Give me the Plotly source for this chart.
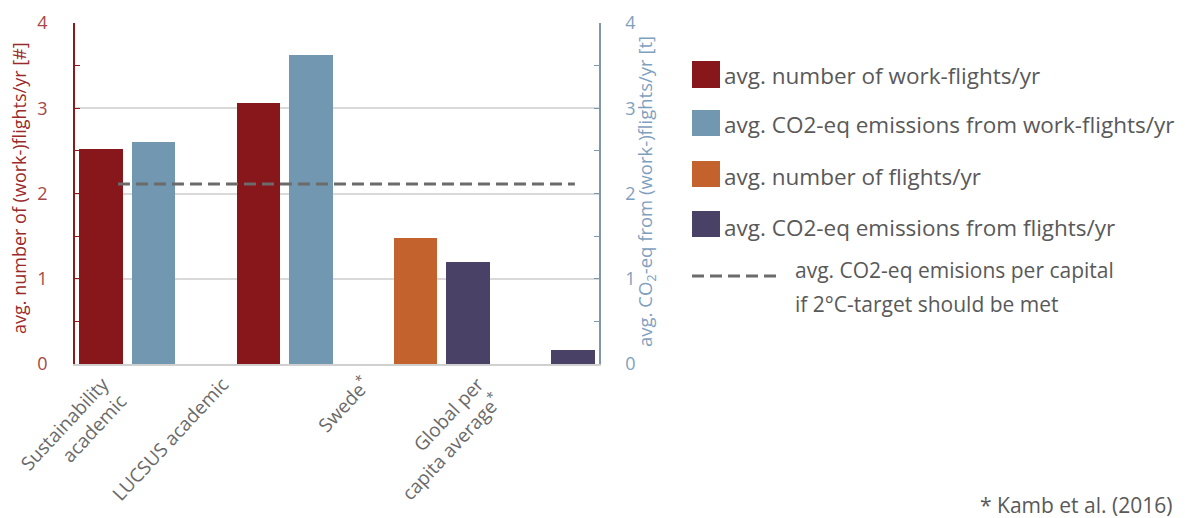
import plotly.graph_objects as go

categories = ["Sustainability<br>academic", "LUCSUS academic", "Swede<sup>*</sup>", "Global per<br>capita average<sup>*</sup>"]
series_names = [
    "avg. number of work-flights/yr",
    "avg. CO2-eq emissions from work-flights/yr",
    "avg. number of flights/yr",
    "avg. CO2-eq emissions from flights/yr",
]
work_flights_n = [2.52, 3.06, None, None]
work_flights_co2 = [2.60, 3.62, None, None]
flights_n = [None, None, 1.48, None]
flights_co2 = [None, None, 1.20, 0.16]
target_value = 2.11
target_label_lines = ["avg. CO2-eq emisions per capital", "if 2°C-target should be met"]
target_x_span = [0.32, 9.04]
left_title = "avg. number of (work-)flights/yr [#]"
right_title = "avg. CO<sub>2</sub>-eq from (work-)flights/yr [t]"
footnote = "* Kamb et al. (2016)"

colors = ["#87171A", "#7297B0", "#C3622D", "#4A4166"]
series_vals = [work_flights_n, work_flights_co2, flights_n, flights_co2]
yaxes = ["y", "y2", "y", "y2"]

# slot position of each bar: categories 3 slots apart, bars packed within a category
slot = {}
for i in range(len(categories)):
    k = 0
    for s, vals in enumerate(series_vals):
        if vals[i] is not None:
            slot[(s, i)] = 3 * i + k
            k += 1

FONT = "Open Sans"
fig = go.Figure()
for s, (name, vals, col, ya) in enumerate(zip(series_names, series_vals, colors, yaxes)):
    xs = [slot[(s, i)] for i, v in enumerate(vals) if v is not None]
    ys = [v for v in vals if v is not None]
    fig.add_trace(go.Bar(x=xs, y=ys, name=name, marker=dict(color=col, line=dict(width=0)),
                         width=0.83, yaxis=ya, showlegend=False))

fig.add_trace(go.Scatter(x=target_x_span, y=[target_value, target_value], mode="lines",
                         line=dict(color="#6b6b6b", width=3, dash="12px,6px"),
                         yaxis="y2", showlegend=False, name="target"))

L, R, T, B = 67, 591, 15, 356
W, H = 1185, 518
def px(x):
    return (x - L) / (R - L)
def py(y):
    return (B - y) / (B - T)

TXT = "#595959"
shapes = []
annotations = []
legend_rows = [(53, 80), (102, 128), (153, 179), (203, 229)]
text_centers = [67, 117, 168, 219]
for (y0, y1), yc, col, name in zip(legend_rows, text_centers, colors, series_names):
    shapes.append(dict(type="rect", xref="paper", yref="paper", x0=px(684), x1=px(712),
                       y0=py(y1), y1=py(y0), fillcolor=col, line=dict(width=0)))
    annotations.append(dict(xref="paper", yref="paper", x=px(714), y=py(yc),
                            text=name, showarrow=False, xanchor="left", yanchor="middle",
                            font=dict(family=FONT, size=22.5, color=TXT)))
shapes.append(dict(type="line", xref="paper", yref="paper", x0=px(684), x1=px(770),
                   y0=py(268), y1=py(268), line=dict(color="#6b6b6b", width=3, dash="12px,6px")))
for line_txt, yc in zip(target_label_lines, [262, 296]):
    annotations.append(dict(xref="paper", yref="paper", x=px(785), y=py(yc),
                            text=line_txt, showarrow=False, xanchor="left", yanchor="middle",
                            align="left", font=dict(family=FONT, size=21, color=TXT)))
annotations.append(dict(xref="paper", yref="paper", x=px(1166), y=py(497),
                        text=footnote, showarrow=False, xanchor="right", yanchor="middle",
                        font=dict(family=FONT, size=21, color=TXT)))
# axis titles placed as rotated text
annotations.append(dict(xref="paper", yref="paper", x=px(11), y=py(180), text=left_title,
                        textangle=-90, showarrow=False, xanchor="center", yanchor="middle",
                        font=dict(family=FONT, size=18, color="#9A2A2A")))
annotations.append(dict(xref="paper", yref="paper", x=px(638), y=py(184), text=right_title,
                        textangle=-90, showarrow=False, xanchor="center", yanchor="middle",
                        font=dict(family=FONT, size=18.5, color="#7F9FBF")))

fig.update_layout(
    width=W, height=H,
    margin=dict(l=L, r=W - R, t=T, b=H - B),
    plot_bgcolor="white", paper_bgcolor="white",
    bargap=0,
    shapes=shapes, annotations=annotations,
    xaxis=dict(range=[-0.5, 9.5], tickvals=[0.03, 2.32, 5.03, 7.19], ticktext=categories,
               tickangle=-47, showgrid=False, zeroline=False, showline=True, automargin=False,
               linecolor="#d0d0d0", linewidth=1.5, ticks="",
               tickfont=dict(family=FONT, size=19, color="#6a6a6a")),
    yaxis=dict(range=[0, 4], dtick=1, showgrid=True, gridcolor="#d9d9d9", gridwidth=1.5,
               zeroline=False, showline=True, linecolor="#8B1A1A", linewidth=1.5, automargin=False,
               ticks="inside", ticklen=5, tickcolor="#8B1A1A", ticklabelstandoff=22,
               minor=dict(dtick=0.5, ticks="inside", ticklen=5, tickcolor="#8B1A1A", showgrid=False),
               tickfont=dict(family=FONT, size=18, color="#A54848")),
    yaxis2=dict(range=[0, 4], dtick=1, overlaying="y", side="right", showgrid=False, automargin=False,
                zeroline=False, showline=True, linecolor="#7F96AB", linewidth=1.5,
                ticks="inside", ticklen=5, tickcolor="#7F96AB", ticklabelstandoff=21,
                minor=dict(dtick=0.5, ticks="inside", ticklen=5, tickcolor="#7F96AB", showgrid=False),
                tickfont=dict(family=FONT, size=18, color="#7F9FBF")),
)

fig.write_html("out.html")
